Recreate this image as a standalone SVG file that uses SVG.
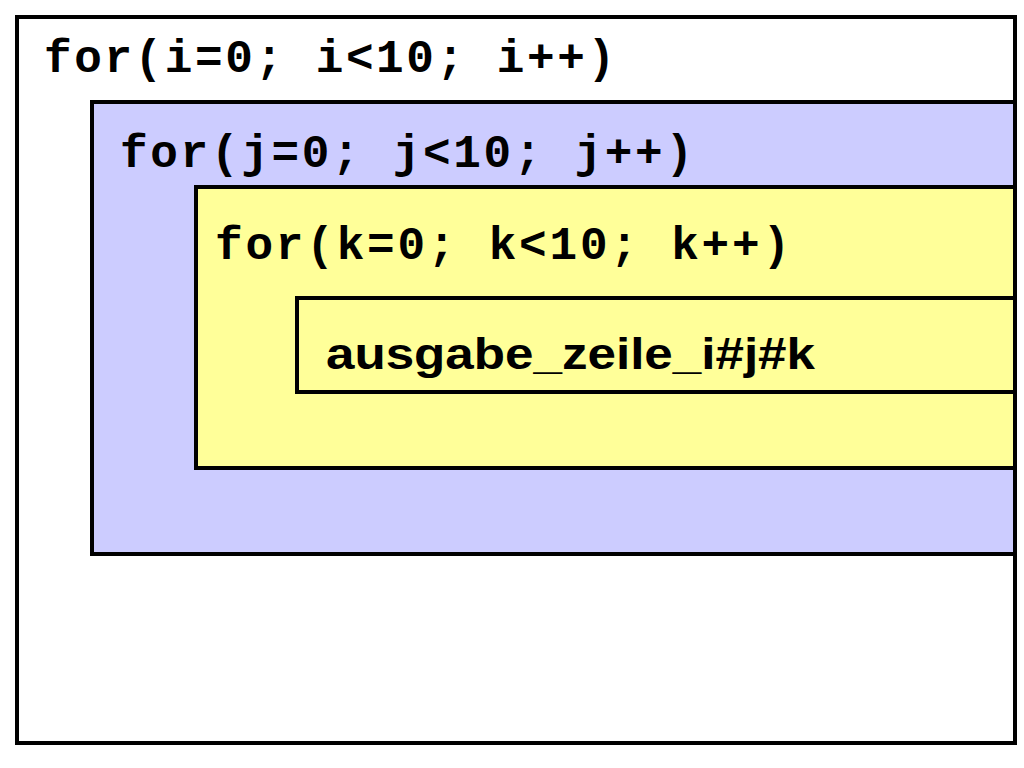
<svg xmlns="http://www.w3.org/2000/svg" width="1024" height="768" viewBox="0 0 1024 768">
<style>
.b{stroke:#000;stroke-width:4}
.m{font-family:"Liberation Mono",monospace;font-weight:bold;font-size:46px;fill:#000}
</style>
<rect width="1024" height="768" fill="#fff"/>
<g id="loop-i"><rect class="b" x="17" y="17" width="998" height="726" fill="#fff"/>
<text class="m" x="44" y="72" textLength="571" lengthAdjust="spacing">for(i=0; i&lt;10; i++)</text></g>
<g id="loop-j"><rect class="b" x="92" y="102" width="940" height="452" fill="#ccccff"/>
<text class="m" x="120" y="167" textLength="573" lengthAdjust="spacing">for(j=0; j&lt;10; j++)</text></g>
<g id="loop-k"><rect class="b" x="196" y="187" width="836" height="281" fill="#ffff99"/>
<text class="m" x="215" y="259" textLength="575" lengthAdjust="spacing">for(k=0; k&lt;10; k++)</text></g>
<g id="body"><rect class="b" x="297" y="298" width="735" height="94" fill="#ffff99"/>
<text x="326" y="369" font-family="Liberation Sans,Arial,sans-serif" font-weight="bold" font-size="44" fill="#000" textLength="489" lengthAdjust="spacingAndGlyphs">ausgabe_zeile_i#j#k</text></g>
<line x1="1015" y1="15" x2="1015" y2="745" stroke="#000" stroke-width="4"/>
<rect x="1017" y="0" width="7" height="768" fill="#fff"/>
<g id="connectors"/>
</svg>
